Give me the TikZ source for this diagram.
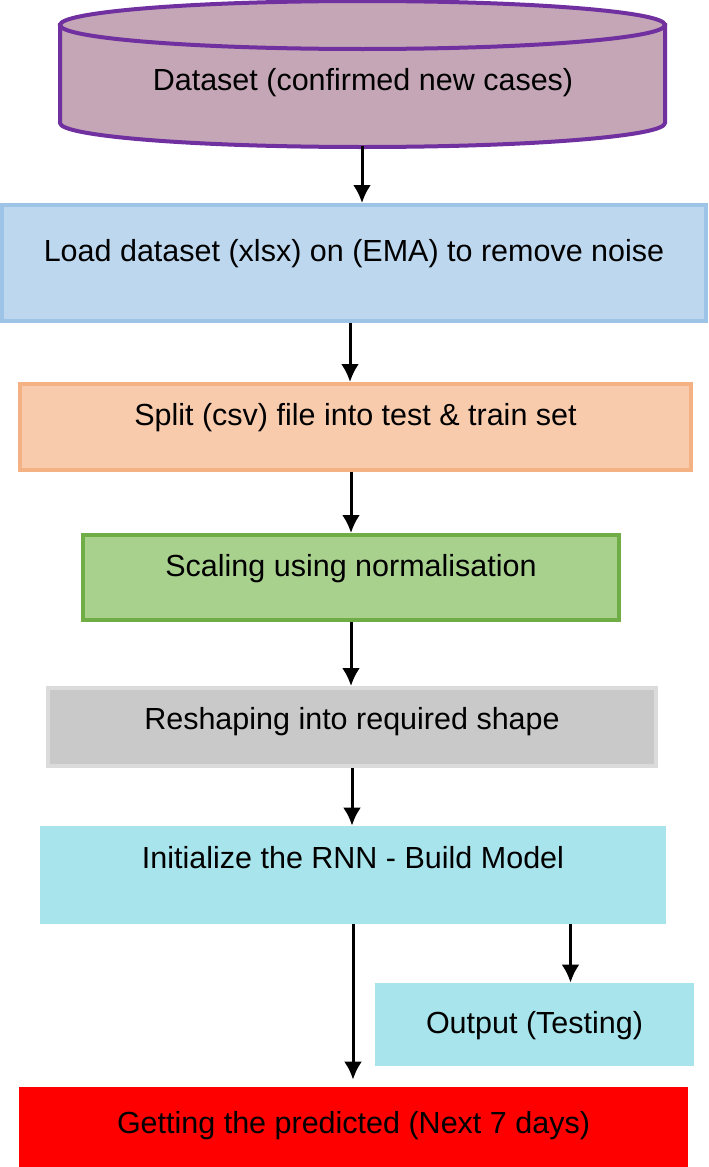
\documentclass[tikz,border=0pt]{standalone}
\usepackage{fontspec}
\setmainfont{Liberation Sans}
\usetikzlibrary{arrows.meta, calc}

\definecolor{dbfill}{HTML}{C4A6B6}
\definecolor{dbline}{HTML}{7030A0}
\definecolor{loadfill}{HTML}{BDD7EE}
\definecolor{loadline}{HTML}{9DC3E6}
\definecolor{splitfill}{HTML}{F8CBAD}
\definecolor{splitline}{HTML}{F4B183}
\definecolor{scalefill}{HTML}{A9D18E}
\definecolor{scaleline}{HTML}{70AD47}
\definecolor{shapefill}{HTML}{C9C9C9}
\definecolor{shapeline}{HTML}{DBDBDB}
\definecolor{rnnfill}{HTML}{A7E4EC}

\tikzset{
    stage/.style={rectangle, inner sep=0pt, font=\fontsize{15.25}{18}\selectfont, text height=10.9pt},
    drum/.style={fill=dbfill, draw=dbline, line width=2pt},
    flow/.style={black, line width=1.5pt, -{Latex[length=9pt,width=9pt]}},
}

\begin{document}
\begin{tikzpicture}[x=0.5pt, y=-0.5pt]
            \useasboundingbox (0,0) rectangle (708,1167);

            % dataset drum
            \filldraw[drum] (60,25) -- (60,123) arc[start angle=180, end angle=0, x radius=302.5, y radius=24] -- (665,25) -- cycle;
            \filldraw[drum] (362.5,25) ellipse[x radius=302.5, y radius=24];
            \node[stage, text depth=0pt] (data) at (363,80) {Dataset (confirmed new cases)};
            \coordinate (dataB) at (362,146);

            \node[stage, fill=loadfill, draw=loadline, line width=2pt, minimum width=352pt, minimum height=58pt, text depth=12pt] (load) at (354,263) {Load dataset (xlsx) on (EMA) to remove noise};
            \node[stage, fill=splitfill, draw=splitline, line width=2pt, minimum width=335.5pt, minimum height=43pt, text depth=12pt] (split) at (355.5,427) {Split (csv) file into test \& train set};
            \node[stage, fill=scalefill, draw=scaleline, line width=2pt, minimum width=268pt, minimum height=42.5pt, text depth=11.5pt] (scale) at (351,577.5) {Scaling using normalisation};
            \node[stage, fill=shapefill, draw=shapeline, line width=2pt, minimum width=304pt, minimum height=39pt, text depth=8pt] (reshape) at (352,727) {Reshaping into required shape};
            \node[stage, fill=rnnfill, minimum width=313pt, minimum height=49pt, text depth=17pt] (rnn) at (353,875) {Initialize the RNN - Build Model};
            \node[stage, fill=rnnfill, minimum width=159.5pt, minimum height=41.5pt, text depth=1.5pt] (out) at (534.5,1024.5) {Output (Testing)};
            \node[stage, fill=red, minimum width=334.5pt, minimum height=40pt, text depth=4pt] (pred) at (353.5,1127) {Getting the predicted (Next 7 days)};

            \draw[flow] (dataB) -- (dataB |- load.north);
            \draw[flow] ([xshift=-2pt]load.south) -- ([xshift=-2pt]load.south |- split.north);
            \draw[flow] (split.south -| scale.north) -- (scale.north);
            \draw[flow] (scale.south) -- (scale.south |- reshape.north);
            \draw[flow] (reshape.south) -- (reshape.south |- rnn.north);
            \draw[flow] ([xshift=18pt]out.north |- rnn.south) -- ([xshift=18pt]out.north);% side branch
            \draw[flow, shorten >=3.5pt] (rnn.south) -- (rnn.south |- pred.north);
        \end{tikzpicture}
\end{document}
